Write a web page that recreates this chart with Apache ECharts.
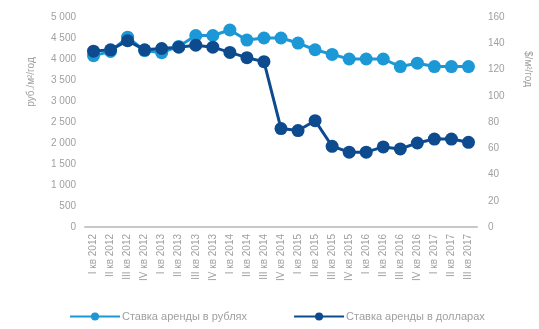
<!DOCTYPE html>
<html>
<head>
<meta charset="utf-8">
<script src="https://cdn.jsdelivr.net/npm/echarts@6/dist/echarts.min.js"></script>
<style>
  html, body { margin: 0; padding: 0; background: #fff; }
  #chart { width: 539px; height: 329px; }
</style>
</head>
<body>
<div id="chart"></div>
<script>
// кварталы
var categories = [
  "I кв 2012", "II кв 2012", "III кв 2012", "IV кв 2012",
  "I кв 2013", "II кв 2013", "III кв 2013", "IV кв 2013",
  "I кв 2014", "II кв 2014", "III кв 2014", "IV кв 2014",
  "I кв 2015", "II кв 2015", "III кв 2015", "IV кв 2015",
  "I кв 2016", "II кв 2016", "III кв 2016", "IV кв 2016",
  "I кв 2017", "II кв 2017", "III кв 2017"
];
// руб./м²/год
var rubValues = [4080, 4180, 4520, 4200, 4150, 4300, 4560, 4560, 4690, 4450, 4500, 4500,
  4380, 4220, 4110, 4000, 4000, 4000, 3820, 3900, 3820, 3820, 3820];
// $/м²/год
var usdValues = [134, 135, 142, 135, 136, 137, 138.5, 137, 133, 129, 126, 75,
  73.5, 81, 61.5, 57, 57, 61, 59.5, 64, 67, 67, 64.5];

var seriesNames = ["Ставка аренды в рублях", "Ставка аренды в долларах"];
var axisNames = ["руб./м²/год", "$/м²/год"];

var lightBlue = "#1b98d5";
var darkBlue = "#0d4b8e";
var labelGray = "#a0a0a0";

var chart = echarts.init(document.getElementById("chart"));

function spaced(v) {
  return String(v).replace(/\B(?=(\d{3})+(?!\d))/g, " ");
}

chart.setOption({
  animation: false,
  textStyle: { fontFamily: "Arial, 'Liberation Sans', sans-serif" },
  grid: { left: 85, right: 62, top: 17, bottom: 102 },
  legend: {
    bottom: 2,
    left: 64,
    itemGap: 46,
    itemWidth: 50,
    itemHeight: 10,
    textStyle: { color: labelGray, fontSize: 11, padding: [0, 0, 0, -3] },
    data: seriesNames
  },
  // подписи осей
  graphic: [
    {
      type: "text",
      x: 31,
      y: 82,
      rotation: Math.PI / 2,
      style: {
        text: axisNames[0],
        fill: labelGray,
        font: "10px Arial, 'Liberation Sans', sans-serif",
        textAlign: "center",
        textVerticalAlign: "middle"
      }
    },
    {
      type: "text",
      x: 528,
      y: 69,
      rotation: -Math.PI / 2,
      style: {
        text: axisNames[1],
        fill: labelGray,
        font: "10px Arial, 'Liberation Sans', sans-serif",
        textAlign: "center",
        textVerticalAlign: "middle"
      }
    }
  ],
  xAxis: {
    type: "category",
    data: categories,
    boundaryGap: true,
    axisLine: { lineStyle: { color: "#c8c8c8", width: 2 } },
    axisTick: { show: false },
    axisLabel: {
      interval: 0,
      rotate: 90,
      color: labelGray,
      fontSize: 10,
      margin: 7
    }
  },
  yAxis: [
    {
      type: "value",
      min: 0,
      max: 5000,
      interval: 500,
      axisLine: { show: false },
      axisTick: { show: false },
      splitLine: { show: false },
      axisLabel: { color: labelGray, fontSize: 10, margin: 9, formatter: spaced }
    },
    {
      type: "value",
      min: 0,
      max: 160,
      interval: 20,
      axisLine: { show: false },
      axisTick: { show: false },
      splitLine: { show: false },
      axisLabel: { color: labelGray, fontSize: 10, margin: 11 }
    }
  ],
  series: [
    {
      name: seriesNames[0],
      type: "line",
      yAxisIndex: 0,
      data: rubValues,
      symbol: "circle",
      symbolSize: 13,
      lineStyle: { color: lightBlue, width: 3 },
      itemStyle: { color: lightBlue }
    },
    {
      name: seriesNames[1],
      type: "line",
      yAxisIndex: 1,
      data: usdValues,
      symbol: "circle",
      symbolSize: 13,
      lineStyle: { color: darkBlue, width: 3 },
      itemStyle: { color: darkBlue }
    }
  ]
});
</script>
</body>
</html>
